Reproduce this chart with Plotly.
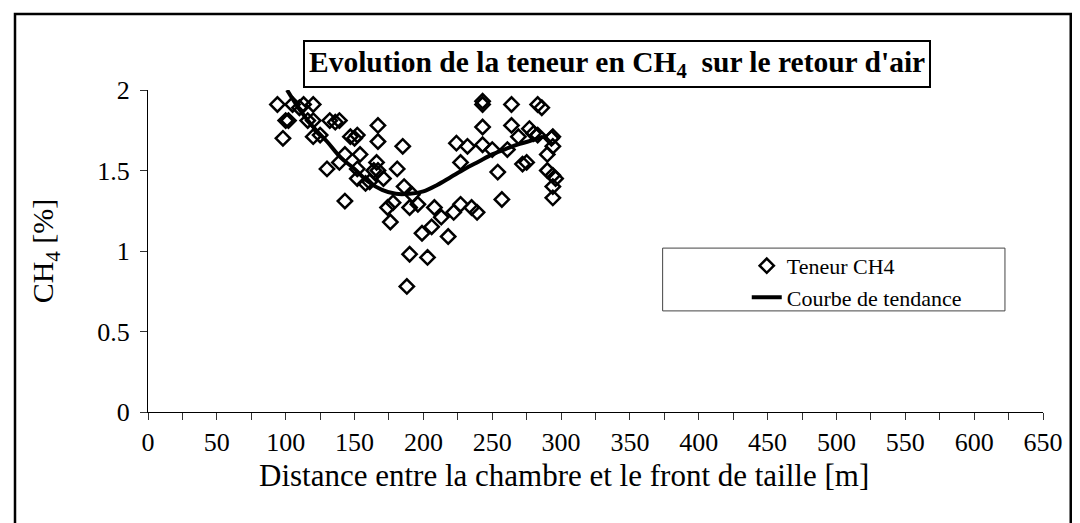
import plotly.graph_objects as go

# Teneur en CH4 relevée (distance [m], CH4 [%])
dist = [94, 98, 100, 102, 103, 105, 110, 113, 116, 120, 120, 120, 125, 130, 132,
        136, 139, 139, 143, 143, 147, 150, 152, 152, 152, 154, 158, 161, 164, 166,
        167, 167, 167, 171, 174, 176, 178, 181, 185, 186, 188, 190, 190, 192, 196,
        199, 203, 206, 208, 213, 218, 222, 224, 227, 227, 232, 235, 239, 243, 243,
        243, 243, 250, 254, 257, 261, 264, 264, 269, 272, 275, 277, 280, 283, 283,
        286, 290, 290, 293, 294, 294, 294, 294, 294, 296]
ch4 = [1.91, 1.70, 1.81, 1.81, 2.01, 1.91, 1.89, 1.91, 1.81, 1.91, 1.81, 1.71, 1.72, 1.51, 1.81,
       1.80, 1.81, 1.55, 1.60, 1.31, 1.71, 1.70, 1.72, 1.51, 1.45, 1.60, 1.42, 1.43, 1.50, 1.55,
       1.78, 1.68, 1.50, 1.45, 1.27, 1.18, 1.30, 1.51, 1.65, 1.40, 0.78, 0.98, 1.27, 1.35, 1.29,
       1.11, 0.96, 1.15, 1.27, 1.21, 1.09, 1.24, 1.67, 1.29, 1.55, 1.65, 1.27, 1.24, 1.66, 1.77,
       1.91, 1.93, 1.63, 1.49, 1.32, 1.63, 1.78, 1.91, 1.71, 1.54, 1.55, 1.76, 1.73, 1.91, 1.72,
       1.89, 1.60, 1.50, 1.70, 1.71, 1.65, 1.47, 1.40, 1.33, 1.45]

# courbe de tendance
trend_x = [101, 110, 120, 130, 140, 150, 160, 170, 180, 190, 200, 210, 220, 230, 240,
           250, 260, 270, 280, 287]
trend_y = [2.00, 1.88, 1.77, 1.68, 1.58, 1.51, 1.43, 1.38, 1.355, 1.355, 1.37, 1.41, 1.46,
           1.51, 1.555, 1.60, 1.635, 1.665, 1.69, 1.71]

font = "Liberation Serif"

fig = go.Figure()
fig.add_trace(go.Scatter(x=dist, y=ch4, mode="markers", name="Teneur CH4",
                         cliponaxis=False,
                         marker=dict(symbol="diamond-open", size=11, color="black",
                                     line=dict(width=2.5, color="black"))))
fig.add_trace(go.Scatter(x=trend_x, y=trend_y, mode="lines", name="Courbe de tendance",
                         cliponaxis=False, line=dict(color="black", width=4, shape="spline")))

tick_font = dict(family=font, size=26, color="black")
fig.update_layout(
    width=1072, height=515,
    margin=dict(l=140, r=37, t=82, b=111),
    paper_bgcolor="white", plot_bgcolor="white",
    font=dict(family=font, color="black"),
    xaxis=dict(range=[0, 650], dtick=50, ticks="outside", ticklen=7, tickcolor="#333",
               showgrid=False, zeroline=False, showline=True, linecolor="black", linewidth=1,
               minor=dict(dtick=25, ticks="outside", ticklen=7, tickcolor="#333"),
               tickfont=tick_font, ticklabelstandoff=0),
    xaxis2=dict(range=[0, 650], overlaying="x", anchor="y", dtick=25, ticks="inside",
                ticklen=7, tickcolor="#333", showticklabels=False, showgrid=False,
                zeroline=False, showline=False),
    yaxis=dict(range=[0, 2], dtick=0.5, ticks="outside", ticklen=7, tickcolor="#333",
               showgrid=False, zeroline=False, showline=True, linecolor="black", linewidth=1,
               tickfont=tick_font, ticklabelstandoff=5,
               title=dict(text="CH<sub>4</sub> [%]", font=dict(family=font, size=30),
                          standoff=34)),
    yaxis2=dict(range=[0, 2], overlaying="y", anchor="x", dtick=0.5, ticks="inside",
                ticklen=7, tickcolor="#333", showticklabels=False, showgrid=False,
                zeroline=False, showline=False),
    legend=dict(x=0.669, y=0.519, xanchor="left", yanchor="top", bgcolor="rgba(0,0,0,0)",
                borderwidth=0, font=dict(family=font, size=22), tracegroupgap=0),
    showlegend=True,
)

# cadre extérieur et cadre de la légende
fig.add_shape(type="rect", xref="paper", yref="paper", x0=-0.1486, x1=1.031,
              y0=-0.38, y1=1.236, line=dict(color="black", width=2.5), layer="below")
fig.add_shape(type="rect", xref="paper", yref="paper", x0=0.575, x1=0.9575,
              y0=0.314, y1=0.509, line=dict(color="#444", width=1), layer="below")

# titre encadré
fig.add_annotation(text="<b>Evolution de la teneur en CH<sub>4</sub>\u00a0 sur le retour d'air</b>",
                   xref="paper", yref="paper", x=0.524, y=1.082, xanchor="center",
                   yanchor="middle", showarrow=False,
                   font=dict(family=font, size=29.5, color="black"),
                   bordercolor="black", borderwidth=2, borderpad=4, bgcolor="white")

# titre de l'axe x (légèrement décalé à gauche comme sur l'original)
fig.add_annotation(text="Distance entre la chambre et le front de taille [m]",
                   xref="paper", yref="paper", x=0.465, y=-0.196, xanchor="center",
                   yanchor="middle", showarrow=False,
                   font=dict(family=font, size=31, color="black"))

fig.write_html("out.html")
